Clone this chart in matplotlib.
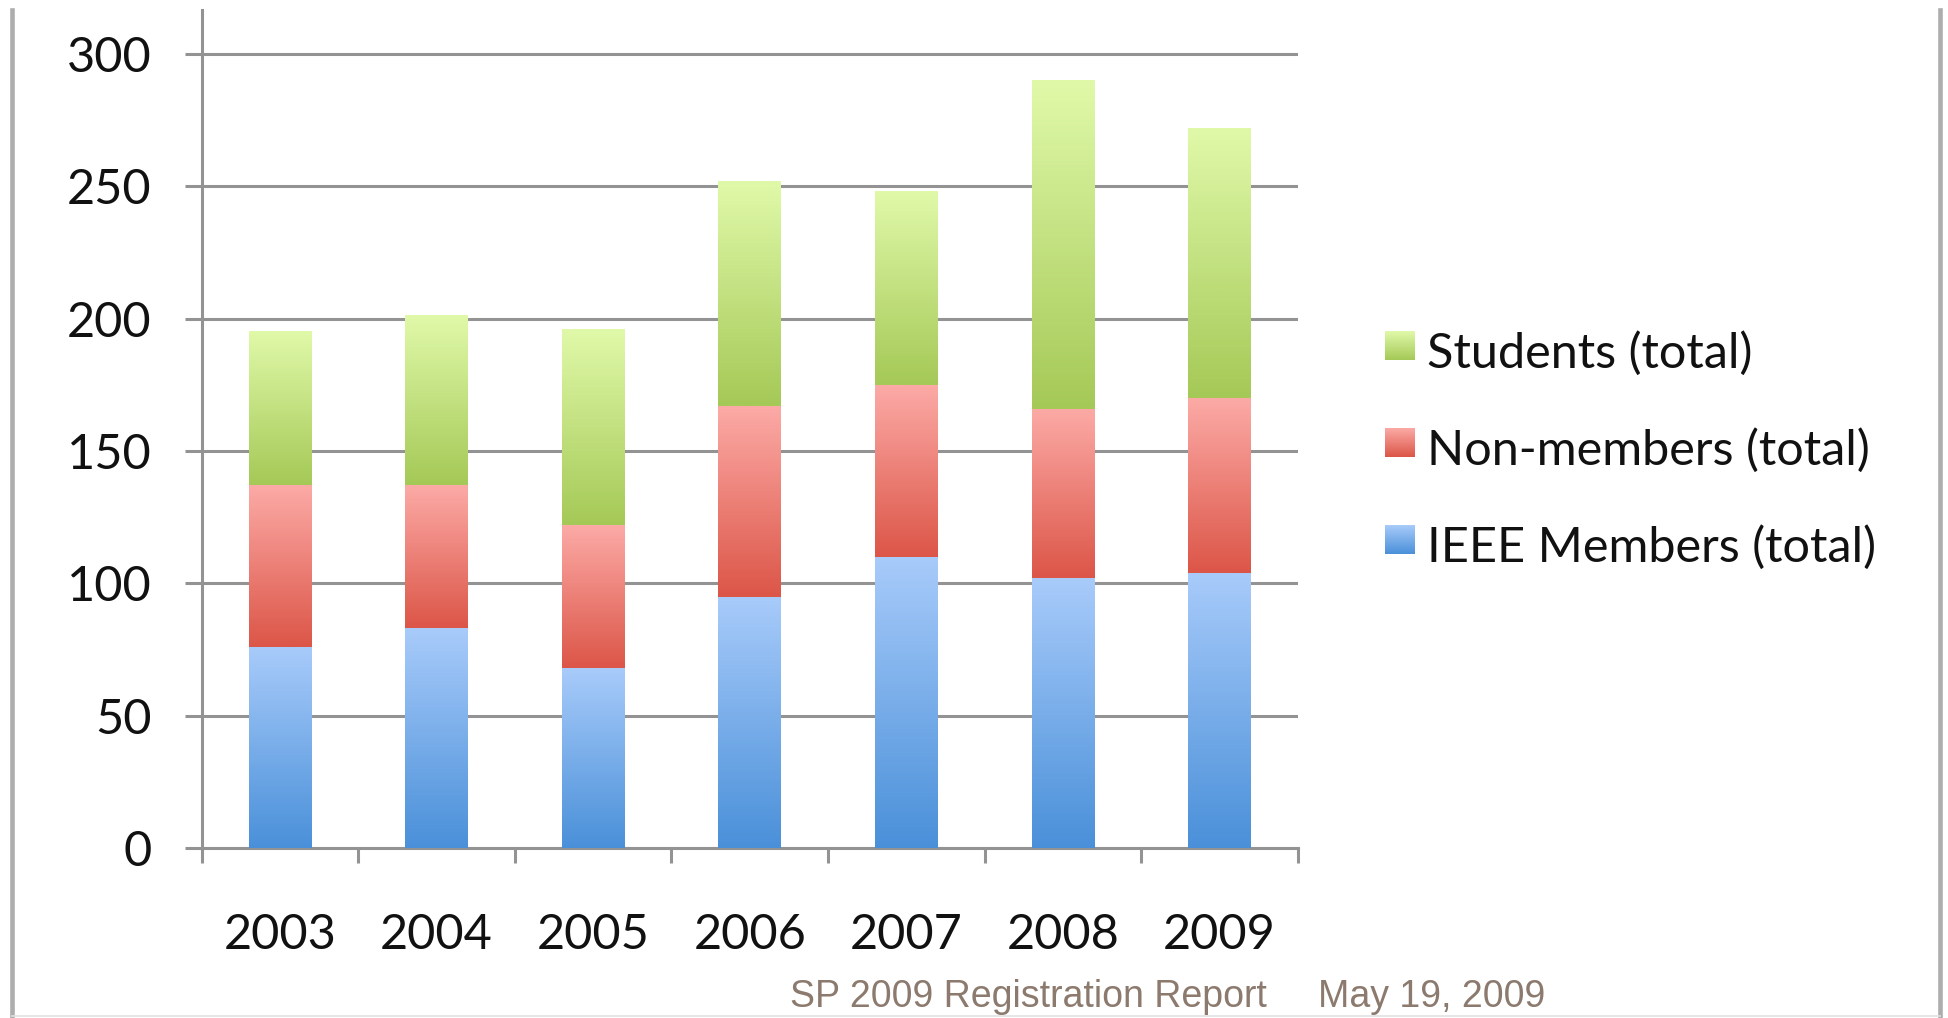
import numpy as np
import matplotlib
matplotlib.use('Agg')
import matplotlib.pyplot as plt
from matplotlib.colors import LinearSegmentedColormap

# Registration counts per year
years = ['2003', '2004', '2005', '2006', '2007', '2008', '2009']
ieee_members = [76, 83, 68, 95, 110, 102, 104]
non_members = [61, 54, 54, 72, 65, 64, 66]
students = [58, 64, 74, 85, 73, 124, 102]

legend_labels = ['Students (total)', 'Non-members (total)', 'IEEE Members (total)']
y_ticks = [0, 50, 100, 150, 200, 250, 300]

# (top colour, bottom colour) of the gradient fills
blue = ('#a8cbfa', '#4a90d9')
red = ('#fcaaa6', '#dc5648')
green = ('#e0f9a9', '#a5c957')

FONT = 'Lato'
GREY = '#939393'
W, H = 1949, 1018


def fill_gradient(ax, x0, x1, y0, y1, top, bottom, zorder=3):
    cmap = LinearSegmentedColormap.from_list('grad', [bottom, top])
    grad = np.linspace(0, 1, 128).reshape(-1, 1)
    ax.imshow(grad, extent=(x0, x1, y0, y1), origin='lower', cmap=cmap,
              aspect='auto', interpolation='bilinear', zorder=zorder)


fig = plt.figure(figsize=(W / 100, H / 100), dpi=100)
ax = fig.add_axes([201.7 / W, 170 / H, 1096.2 / W, 838 / H])

x = np.arange(len(years))
base = np.zeros(len(years))
for vals, (top_c, bot_c) in zip([ieee_members, non_members, students],
                                [blue, red, green]):
    bars = ax.bar(x, vals, 0.4, bottom=base, color=bot_c, linewidth=0, zorder=2)
    for r in bars:
        fill_gradient(ax, r.get_x(), r.get_x() + r.get_width(),
                      r.get_y(), r.get_y() + r.get_height(), top_c, bot_c)
    base += np.array(vals)

ax.set_xlim(-0.5, len(years) - 0.5)
ax.set_ylim(0, 316.7)

# gridlines
ax.set_yticks(y_ticks)
ax.set_yticklabels([str(v) for v in y_ticks], fontsize=35, family=FONT)
ax.yaxis.grid(True, color=GREY, linewidth=2.2)
ax.set_axisbelow(True)
ax.tick_params(axis='y', direction='out', length=12, width=2.2, color=GREY,
               pad=24, labelcolor='#111111')

# x ticks between categories, labels under each category
ax.set_xticks(np.arange(-0.5, len(years), 1.0))
ax.set_xticklabels([])
ax.tick_params(axis='x', which='major', direction='out', length=10.8,
               width=2.2, color=GREY)
ax.set_xticks(x, minor=True)
ax.set_xticklabels(years, minor=True, fontsize=35, family=FONT)
ax.tick_params(axis='x', which='minor', length=0, pad=47, labelcolor='#111111')

for side in ['top', 'right']:
    ax.spines[side].set_visible(False)
for side in ['left', 'bottom']:
    ax.spines[side].set_color(GREY)
    ax.spines[side].set_linewidth(2.2)

# overlay in pixel coordinates for legend, frame and footer
ov = fig.add_axes([0, 0, 1, 1])
ov.set_xlim(0, W)
ov.set_ylim(H, 0)
ov.axis('off')

baselines = [368, 465, 562]
for label, (top_c, bot_c), yb in zip(legend_labels, [green, red, blue], baselines):
    fill_gradient(ov, 1385, 1415, yb - 8, yb - 36.5, top_c, bot_c)
    ov.text(1427, yb, label, fontsize=35, family=FONT, va='baseline',
            ha='left', color='#111111')
ov.set_xlim(0, W)
ov.set_ylim(H, 0)

ov.plot([12, 12], [10, H], color='#adadad', linewidth=3.3)
ov.plot([1940, 1940], [10, H], color='#adadad', linewidth=3.3)
ov.plot([12, 1940], [1016, 1016], color='#e2e2e2', linewidth=1.2)

ov.text(790, 1006.7, 'SP 2009 Registration Report', fontsize=27,
        family='Liberation Sans', color='#8c7a6e', va='baseline')
ov.text(1318, 1006.7, 'May 19, 2009', fontsize=27,
        family='Liberation Sans', color='#8c7a6e', va='baseline')

fig.savefig('out.png', dpi=100)
